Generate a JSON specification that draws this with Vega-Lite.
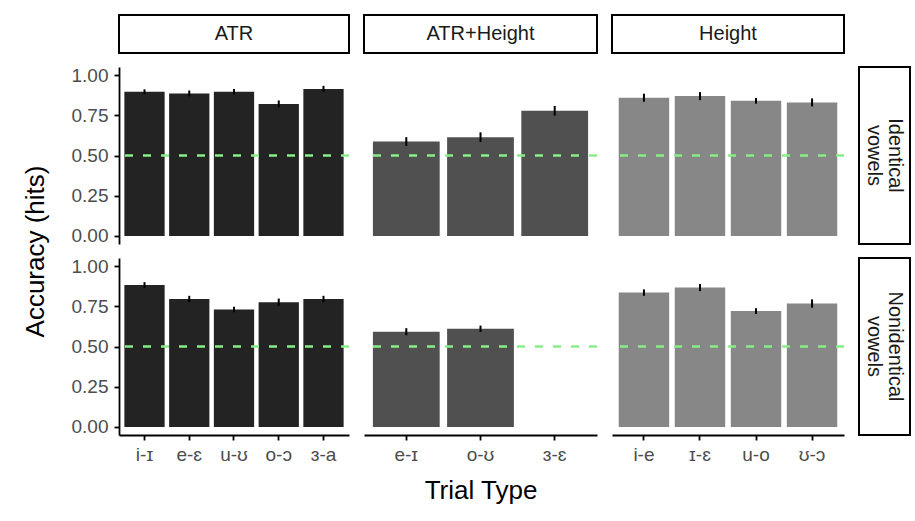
{
  "$schema": "https://vega.github.io/schema/vega-lite/v6.json",
  "autosize": {"type": "pad"},
  "padding": {"left": 22, "top": 14, "right": 5, "bottom": 5},
  "background": "white",
  "bounds": "flush",
  "columns": 4,
  "spacing": {"row": 14, "column": 15},
  "datasets": {
    "acc": [
      {"type": "ATR", "cond": "Identical", "trial": "i-ɪ", "acc": 0.896, "lo": 0.881, "hi": 0.911},
      {"type": "ATR", "cond": "Identical", "trial": "e-ɛ", "acc": 0.886, "lo": 0.868, "hi": 0.904},
      {"type": "ATR", "cond": "Identical", "trial": "u-ʊ", "acc": 0.896, "lo": 0.879, "hi": 0.913},
      {"type": "ATR", "cond": "Identical", "trial": "o-ɔ", "acc": 0.820, "lo": 0.798, "hi": 0.842},
      {"type": "ATR", "cond": "Identical", "trial": "ɜ-a", "acc": 0.913, "lo": 0.893, "hi": 0.933},
      {"type": "ATR+Height", "cond": "Identical", "trial": "e-ɪ", "acc": 0.587, "lo": 0.560, "hi": 0.614},
      {"type": "ATR+Height", "cond": "Identical", "trial": "o-ʊ", "acc": 0.614, "lo": 0.584, "hi": 0.644},
      {"type": "ATR+Height", "cond": "Identical", "trial": "ɜ-ɛ", "acc": 0.778, "lo": 0.748, "hi": 0.808},
      {"type": "Height", "cond": "Identical", "trial": "i-e", "acc": 0.859, "lo": 0.834, "hi": 0.884},
      {"type": "Height", "cond": "Identical", "trial": "ɪ-ɛ", "acc": 0.869, "lo": 0.844, "hi": 0.894},
      {"type": "Height", "cond": "Identical", "trial": "u-o", "acc": 0.840, "lo": 0.822, "hi": 0.858},
      {"type": "Height", "cond": "Identical", "trial": "ʊ-ɔ", "acc": 0.830, "lo": 0.805, "hi": 0.855},
      {"type": "ATR", "cond": "Nonidentical", "trial": "i-ɪ", "acc": 0.882, "lo": 0.864, "hi": 0.900},
      {"type": "ATR", "cond": "Nonidentical", "trial": "e-ɛ", "acc": 0.795, "lo": 0.775, "hi": 0.815},
      {"type": "ATR", "cond": "Nonidentical", "trial": "u-ʊ", "acc": 0.730, "lo": 0.713, "hi": 0.747},
      {"type": "ATR", "cond": "Nonidentical", "trial": "o-ɔ", "acc": 0.775, "lo": 0.752, "hi": 0.798},
      {"type": "ATR", "cond": "Nonidentical", "trial": "ɜ-a", "acc": 0.795, "lo": 0.775, "hi": 0.815},
      {"type": "ATR+Height", "cond": "Nonidentical", "trial": "e-ɪ", "acc": 0.592, "lo": 0.570, "hi": 0.614},
      {"type": "ATR+Height", "cond": "Nonidentical", "trial": "o-ʊ", "acc": 0.610, "lo": 0.590, "hi": 0.630},
      {"type": "Height", "cond": "Nonidentical", "trial": "i-e", "acc": 0.835, "lo": 0.815, "hi": 0.855},
      {"type": "Height", "cond": "Nonidentical", "trial": "ɪ-ɛ", "acc": 0.866, "lo": 0.844, "hi": 0.888},
      {"type": "Height", "cond": "Nonidentical", "trial": "u-o", "acc": 0.720, "lo": 0.702, "hi": 0.738},
      {"type": "Height", "cond": "Nonidentical", "trial": "ʊ-ɔ", "acc": 0.767, "lo": 0.741, "hi": 0.793}
    ],
    "strips": [
      {"label": "ATR"},
      {"label": "ATR+Height"},
      {"label": "Height"},
      {"label": "Identical vowels"},
      {"label": "Nonidentical vowels"}
    ]
  },
  "concat": [
    {"width": 230, "height": 38, "data": {"name": "strips"}, "transform": [{"filter": "datum.label === 'ATR'"}],
     "view": {"stroke": "black", "strokeWidth": 2, "fill": "white"},
     "mark": {"type": "text", "fontSize": 20, "color": "#1a1a1a"}, "encoding": {"text": {"field": "label"}}},
    {"width": 233, "height": 38, "data": {"name": "strips"}, "transform": [{"filter": "datum.label === 'ATR+Height'"}],
     "view": {"stroke": "black", "strokeWidth": 2, "fill": "white"},
     "mark": {"type": "text", "fontSize": 20, "color": "#1a1a1a"}, "encoding": {"text": {"field": "label"}}},
    {"width": 232, "height": 38, "data": {"name": "strips"}, "transform": [{"filter": "datum.label === 'Height'"}],
     "view": {"stroke": "black", "strokeWidth": 2, "fill": "white"},
     "mark": {"type": "text", "fontSize": 20, "color": "#1a1a1a"}, "encoding": {"text": {"field": "label"}}},
    {"width": 51, "height": 38, "data": {"name": "strips"}, "transform": [{"filter": "false"}],
     "mark": {"type": "text"}, "encoding": {"text": {"field": "label"}}},

    {
      "width": 230, "height": 177, "data": {"name": "acc"},
      "transform": [{"filter": "datum.type === 'ATR' && datum.cond === 'Identical'"}],
      "layer": [
        {"mark": {"type": "bar", "color": "#232323"},
         "encoding": {
           "x": {"field": "trial", "type": "nominal", "scale": {"domain": ["i-ɪ", "e-ɛ", "u-ʊ", "o-ɔ", "ɜ-a"], "paddingInner": 0.1, "paddingOuter": 0.12}, "axis": null},
           "y": {"field": "acc", "type": "quantitative", "scale": {"domain": [-0.05, 1.05], "nice": false, "zero": false},
                 "axis": {"values": [0, 0.25, 0.5, 0.75, 1], "format": ".2f", "title": "Accuracy (hits)", "titleX": -71, "titleY": 184}}}},
        {"mark": {"type": "rule", "color": "black", "strokeWidth": 2},
         "encoding": {
           "x": {"field": "trial", "type": "nominal"},
           "y": {"field": "lo", "type": "quantitative", "axis": {"values": [0, 0.25, 0.5, 0.75, 1], "format": ".2f", "title": "Accuracy (hits)", "titleX": -71, "titleY": 184}},
           "y2": {"field": "hi"}}},
        {"transform": [{"aggregate": [{"op": "count", "as": "n"}]}],
         "mark": {"type": "rule", "color": "#88EE88", "strokeWidth": 2.5, "strokeDash": [8, 10]},
         "encoding": {"y": {"datum": 0.5, "type": "quantitative", "axis": {"values": [0, 0.25, 0.5, 0.75, 1], "format": ".2f", "title": "Accuracy (hits)", "titleX": -71, "titleY": 184}}}}
      ]
    },
    {
      "width": 233, "height": 177, "data": {"name": "acc"},
      "transform": [{"filter": "datum.type === 'ATR+Height' && datum.cond === 'Identical'"}],
      "layer": [
        {"mark": {"type": "bar", "color": "#505050"},
         "encoding": {
           "x": {"field": "trial", "type": "nominal", "scale": {"domain": ["e-ɪ", "o-ʊ", "ɜ-ɛ"], "paddingInner": 0.1, "paddingOuter": 0.12}, "axis": null},
           "y": {"field": "acc", "type": "quantitative", "scale": {"domain": [-0.05, 1.05], "nice": false, "zero": false}, "axis": null}}},
        {"mark": {"type": "rule", "color": "black", "strokeWidth": 2},
         "encoding": {
           "x": {"field": "trial", "type": "nominal"},
           "y": {"field": "lo", "type": "quantitative", "axis": null},
           "y2": {"field": "hi"}}},
        {"transform": [{"aggregate": [{"op": "count", "as": "n"}]}],
         "mark": {"type": "rule", "color": "#88EE88", "strokeWidth": 2.5, "strokeDash": [8, 10]},
         "encoding": {"y": {"datum": 0.5, "type": "quantitative", "axis": null}}}
      ]
    },
    {
      "width": 232, "height": 177, "data": {"name": "acc"},
      "transform": [{"filter": "datum.type === 'Height' && datum.cond === 'Identical'"}],
      "layer": [
        {"mark": {"type": "bar", "color": "#878787"},
         "encoding": {
           "x": {"field": "trial", "type": "nominal", "scale": {"domain": ["i-e", "ɪ-ɛ", "u-o", "ʊ-ɔ"], "paddingInner": 0.1, "paddingOuter": 0.12}, "axis": null},
           "y": {"field": "acc", "type": "quantitative", "scale": {"domain": [-0.05, 1.05], "nice": false, "zero": false}, "axis": null}}},
        {"mark": {"type": "rule", "color": "black", "strokeWidth": 2},
         "encoding": {
           "x": {"field": "trial", "type": "nominal"},
           "y": {"field": "lo", "type": "quantitative", "axis": null},
           "y2": {"field": "hi"}}},
        {"transform": [{"aggregate": [{"op": "count", "as": "n"}]}],
         "mark": {"type": "rule", "color": "#88EE88", "strokeWidth": 2.5, "strokeDash": [8, 10]},
         "encoding": {"y": {"datum": 0.5, "type": "quantitative", "axis": null}}}
      ]
    },
    {"width": 51, "height": 177, "data": {"name": "strips"}, "transform": [{"filter": "datum.label === 'Identical vowels'"}],
     "view": {"stroke": "black", "strokeWidth": 2, "fill": "white"},
     "mark": {"type": "text", "fontSize": 20, "color": "#1a1a1a", "angle": 90, "lineBreak": " ", "lineHeight": 21, "dy": -10.5}, "encoding": {"text": {"field": "label"}}},

    {
      "width": 230, "height": 177, "data": {"name": "acc"},
      "transform": [{"filter": "datum.type === 'ATR' && datum.cond === 'Nonidentical'"}],
      "layer": [
        {"mark": {"type": "bar", "color": "#232323"},
         "encoding": {
           "x": {"field": "trial", "type": "nominal", "scale": {"domain": ["i-ɪ", "e-ɛ", "u-ʊ", "o-ɔ", "ɜ-a"], "paddingInner": 0.1, "paddingOuter": 0.12}, "axis": {"title": null}},
           "y": {"field": "acc", "type": "quantitative", "scale": {"domain": [-0.05, 1.05], "nice": false, "zero": false},
                 "axis": {"values": [0, 0.25, 0.5, 0.75, 1], "format": ".2f", "title": null}}}},
        {"mark": {"type": "rule", "color": "black", "strokeWidth": 2},
         "encoding": {
           "x": {"field": "trial", "type": "nominal", "axis": {"title": null}},
           "y": {"field": "lo", "type": "quantitative", "axis": {"values": [0, 0.25, 0.5, 0.75, 1], "format": ".2f", "title": null}},
           "y2": {"field": "hi"}}},
        {"transform": [{"aggregate": [{"op": "count", "as": "n"}]}],
         "mark": {"type": "rule", "color": "#88EE88", "strokeWidth": 2.5, "strokeDash": [8, 10]},
         "encoding": {"y": {"datum": 0.5, "type": "quantitative", "axis": {"values": [0, 0.25, 0.5, 0.75, 1], "format": ".2f", "title": null}}}}
      ]
    },
    {
      "width": 233, "height": 177, "data": {"name": "acc"},
      "transform": [{"filter": "datum.type === 'ATR+Height' && datum.cond === 'Nonidentical'"}],
      "layer": [
        {"mark": {"type": "bar", "color": "#505050"},
         "encoding": {
           "x": {"field": "trial", "type": "nominal", "scale": {"domain": ["e-ɪ", "o-ʊ", "ɜ-ɛ"], "paddingInner": 0.1, "paddingOuter": 0.12}, "axis": {"title": "Trial Type"}},
           "y": {"field": "acc", "type": "quantitative", "scale": {"domain": [-0.05, 1.05], "nice": false, "zero": false}, "axis": null}}},
        {"mark": {"type": "rule", "color": "black", "strokeWidth": 2},
         "encoding": {
           "x": {"field": "trial", "type": "nominal", "axis": {"title": "Trial Type"}},
           "y": {"field": "lo", "type": "quantitative", "axis": null},
           "y2": {"field": "hi"}}},
        {"transform": [{"aggregate": [{"op": "count", "as": "n"}]}],
         "mark": {"type": "rule", "color": "#88EE88", "strokeWidth": 2.5, "strokeDash": [8, 10]},
         "encoding": {"y": {"datum": 0.5, "type": "quantitative", "axis": null}}}
      ]
    },
    {
      "width": 232, "height": 177, "data": {"name": "acc"},
      "transform": [{"filter": "datum.type === 'Height' && datum.cond === 'Nonidentical'"}],
      "layer": [
        {"mark": {"type": "bar", "color": "#878787"},
         "encoding": {
           "x": {"field": "trial", "type": "nominal", "scale": {"domain": ["i-e", "ɪ-ɛ", "u-o", "ʊ-ɔ"], "paddingInner": 0.1, "paddingOuter": 0.12}, "axis": {"title": null}},
           "y": {"field": "acc", "type": "quantitative", "scale": {"domain": [-0.05, 1.05], "nice": false, "zero": false}, "axis": null}}},
        {"mark": {"type": "rule", "color": "black", "strokeWidth": 2},
         "encoding": {
           "x": {"field": "trial", "type": "nominal", "axis": {"title": null}},
           "y": {"field": "lo", "type": "quantitative", "axis": null},
           "y2": {"field": "hi"}}},
        {"transform": [{"aggregate": [{"op": "count", "as": "n"}]}],
         "mark": {"type": "rule", "color": "#88EE88", "strokeWidth": 2.5, "strokeDash": [8, 10]},
         "encoding": {"y": {"datum": 0.5, "type": "quantitative", "axis": null}}}
      ]
    },
    {"width": 51, "height": 177, "data": {"name": "strips"}, "transform": [{"filter": "datum.label === 'Nonidentical vowels'"}],
     "view": {"stroke": "black", "strokeWidth": 2, "fill": "white"},
     "mark": {"type": "text", "fontSize": 20, "color": "#1a1a1a", "angle": 90, "lineBreak": " ", "lineHeight": 21, "dy": -10.5}, "encoding": {"text": {"field": "label"}}}
  ],
  "config": {
    "font": "Liberation Sans",
    "view": {"stroke": null},
    "axis": {
      "grid": false,
      "domainColor": "#000000",
      "domainWidth": 1.8,
      "tickColor": "#000000",
      "tickWidth": 1.8,
      "tickSize": 5,
      "labelColor": "#4d4d4d",
      "labelFontSize": 19,
      "titleFontSize": 26,
      "titleFontWeight": "normal",
      "titleColor": "#000000"
    },
    "axisY": {"labelPadding": 6},
    "axisX": {"labelAngle": 0, "titlePadding": 13, "labelPadding": 5}
  }
}
